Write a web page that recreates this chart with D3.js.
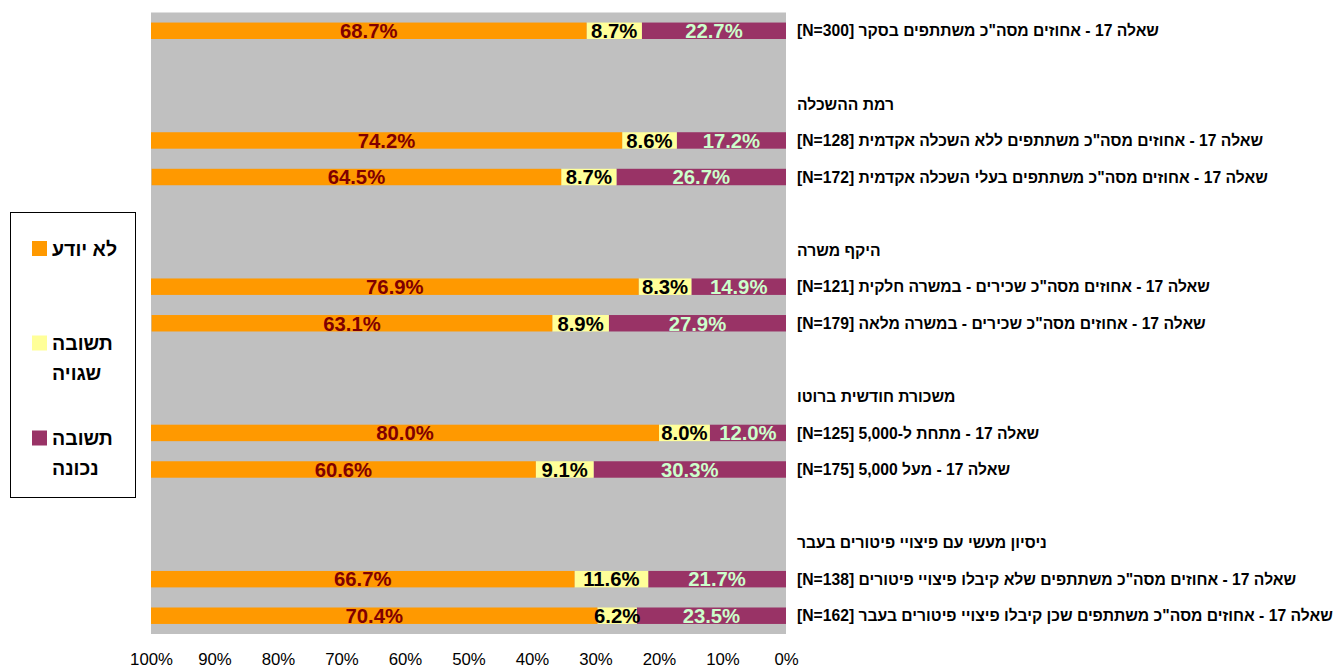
<!DOCTYPE html>
<html lang="he">
<head>
<meta charset="utf-8">
<script src="https://cdn.jsdelivr.net/npm/d3@7"></script>
<style>
  html, body { margin: 0; padding: 0; background: #ffffff; }
  svg { display: block; font-family: Arial, "Liberation Sans", sans-serif; }
</style>
</head>
<body>
<svg id="chart" width="1338" height="668"></svg>
<script>
// Row labels, top to bottom (empty strings are spacer rows)
const categories = [
  'שאלה 17 - אחוזים מסה"כ משתתפים בסקר [N=300]',
  '',
  'רמת ההשכלה',
  'שאלה 17 - אחוזים מסה"כ משתתפים ללא השכלה אקדמית [N=128]',
  'שאלה 17 - אחוזים מסה"כ משתתפים בעלי השכלה אקדמית [N=172]',
  '',
  'היקף משרה',
  'שאלה 17 - אחוזים מסה"כ שכירים - במשרה חלקית [N=121]',
  'שאלה 17 - אחוזים מסה"כ שכירים - במשרה מלאה [N=179]',
  '',
  'משכורת חודשית ברוטו',
  'שאלה 17 - מתחת ל-5,000 [N=125]',
  'שאלה 17 - מעל 5,000 [N=175]',
  '',
  'ניסיון מעשי עם פיצויי פיטורים בעבר',
  'שאלה 17 - אחוזים מסה"כ משתתפים שלא קיבלו פיצויי פיטורים [N=138]',
  'שאלה 17 - אחוזים מסה"כ משתתפים שכן קיבלו פיצויי פיטורים בעבר [N=162]'
];

// Series values (percent), null for spacer / heading rows
const correct = [22.7, null, null, 17.2, 26.7, null, null, 14.9, 27.9, null, null, 12.0, 30.3, null, null, 21.7, 23.5];
const wrong   = [8.7,  null, null, 8.6,  8.7,  null, null, 8.3,  8.9,  null, null, 8.0,  9.1,  null, null, 11.6, 6.2];
const unknown = [68.7, null, null, 74.2, 64.5, null, null, 76.9, 63.1, null, null, 80.0, 60.6, null, null, 66.7, 70.4];

const seriesNames = ["תשובה נכונה", "תשובה שגויה", "לא יודע"];
const legendOrder = [
  { name: "לא יודע", lines: ["לא יודע"] },
  { name: "תשובה שגויה", lines: ["תשובה", "שגויה"] },
  { name: "תשובה נכונה", lines: ["תשובה", "נכונה"] }
];
const tickValues = [0, 10, 20, 30, 40, 50, 60, 70, 80, 90, 100];

const fills = { "תשובה נכונה": "#993366", "תשובה שגויה": "#FFFF99", "לא יודע": "#FF9900" };
const labelColors = { "תשובה נכונה": "#CCFFCC", "תשובה שגויה": "#000000", "לא יודע": "#800000" };

const svg = d3.select("#chart");
const plot = { left: 151, right: 786, top: 12.5, bottom: 634 };

const x = d3.scaleLinear().domain([0, 100]).range([plot.right, plot.left]);
const y = d3.scaleBand()
  .domain(d3.range(categories.length))
  .range([plot.top, plot.bottom])
  .paddingInner(0.55)
  .paddingOuter(0.275);

// plot background
svg.append("rect")
  .attr("x", plot.left).attr("y", plot.top)
  .attr("width", plot.right - plot.left).attr("height", plot.bottom - plot.top)
  .attr("fill", "#C0C0C0");

svg.append("clipPath").attr("id", "plotClip")
  .append("rect")
  .attr("x", plot.left).attr("y", plot.top)
  .attr("width", plot.right - plot.left).attr("height", plot.bottom - plot.top);

// stacked rows from the right edge: correct, wrong, don't know
const rows = categories.map((c, i) => ({
  i,
  "תשובה נכונה": correct[i],
  "תשובה שגויה": wrong[i],
  "לא יודע": unknown[i]
})).filter(d => d["תשובה נכונה"] != null);

const stack = d3.stack().keys(seriesNames);
const layers = stack(rows);

const barsG = svg.append("g").attr("clip-path", "url(#plotClip)");
layers.forEach(layer => {
  barsG.selectAll(null)
    .data(layer)
    .enter().append("rect")
    .attr("x", d => x(d[1]))
    .attr("y", d => y(d.data.i))
    .attr("width", d => x(d[0]) - x(d[1]))
    .attr("height", y.bandwidth())
    .attr("fill", fills[layer.key]);
});

// value labels centred in each segment
layers.forEach(layer => {
  svg.append("g").selectAll(null)
    .data(layer)
    .enter().append("text")
    .attr("x", d => (x(d[0]) + x(Math.min(d[1], 100))) / 2)
    .attr("y", d => y(d.data.i) + y.bandwidth() / 2)
    .attr("dy", "0.36em")
    .attr("text-anchor", "middle")
    .attr("font-size", 20.3)
    .attr("font-weight", "bold")
    .attr("fill", labelColors[layer.key])
    .text(d => d.data[layer.key].toFixed(1) + "%");
});

// category labels to the right of the plot
svg.append("g").selectAll(null)
  .data(categories.map((c, i) => ({ c, i })).filter(d => d.c !== ""))
  .enter().append("text")
  .attr("x", 797)
  .attr("y", d => y(d.i) + y.bandwidth() / 2)
  .attr("dy", "0.36em")
  .attr("direction", "rtl")
  .attr("text-anchor", "end")
  .attr("font-size", 15.7)
  .attr("font-weight", "bold")
  .attr("fill", "#000")
  .text(d => d.c);

// bottom axis tick labels
const axis = d3.axisBottom(x)
  .tickValues(tickValues)
  .tickFormat(d => d + "%")
  .tickSize(0)
  .tickPadding(0);
const axisG = svg.append("g")
  .attr("transform", `translate(0, ${plot.bottom})`)
  .call(axis);
axisG.select(".domain").remove();
axisG.selectAll("text")
  .attr("y", 25)
  .attr("dy", "0.36em")
  .attr("font-size", 16.8)
  .attr("font-family", "Arial, 'Liberation Sans', sans-serif")
  .attr("fill", "#000");

// legend
const legend = svg.append("g");
legend.append("rect")
  .attr("x", 10.5).attr("y", 212.5)
  .attr("width", 125).attr("height", 285)
  .attr("fill", "#fff").attr("stroke", "#000").attr("stroke-width", 1);

const legendY = [248.5, 343, 438];
legendOrder.forEach((item, k) => {
  const cy = legendY[k];
  legend.append("rect")
    .attr("x", 32).attr("y", cy - 7.5)
    .attr("width", 15).attr("height", 15)
    .attr("fill", fills[item.name]);
  item.lines.forEach((line, j) => {
    legend.append("text")
      .attr("x", 52)
      .attr("y", cy + j * 30)
      .attr("dy", "0.36em")
      .attr("text-anchor", "start")
      .attr("font-size", 19.5)
      .attr("font-weight", "bold")
      .attr("fill", "#000")
      .text(line);
  });
});
</script>
</body>
</html>
